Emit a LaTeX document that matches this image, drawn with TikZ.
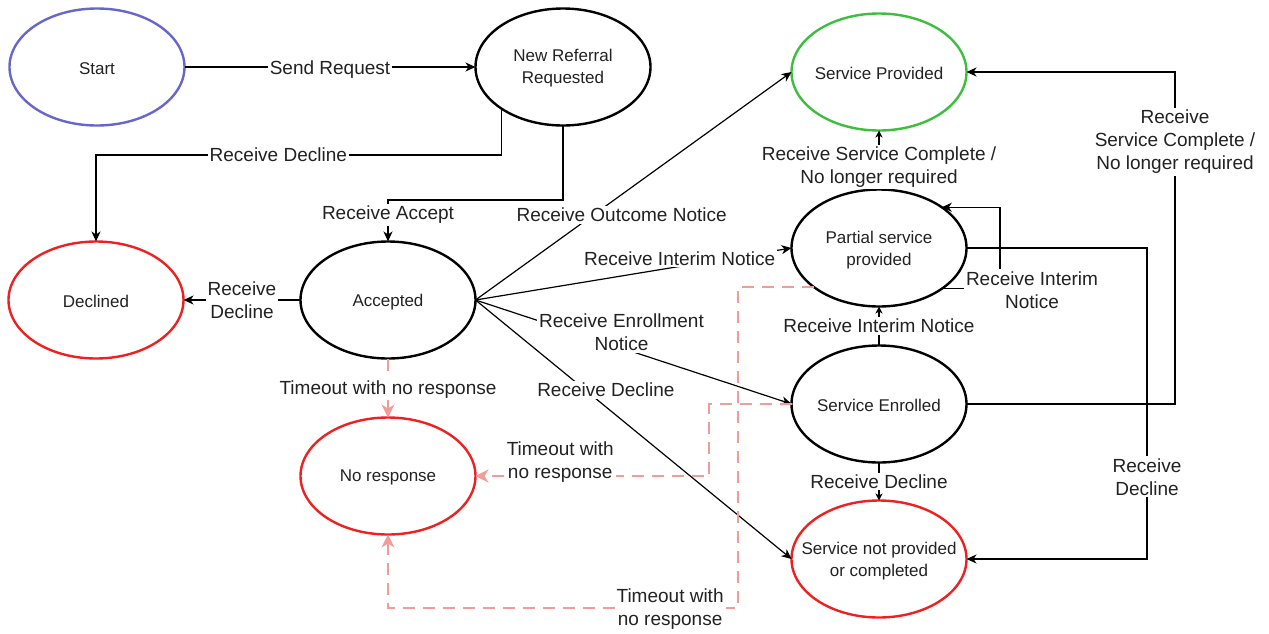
\documentclass[tikz,border=0pt]{standalone}
\usepackage{fontspec}
\setmainfont{Liberation Sans}
\usetikzlibrary{arrows.meta,shapes.geometric}
\definecolor{startblue}{HTML}{6666CC}
\definecolor{okgreen}{HTML}{3CBF3C}
\definecolor{failred}{HTML}{EE2020}
\definecolor{timeoutpink}{HTML}{F19C99}
\definecolor{ink}{HTML}{222222}
\begin{document}
\begin{tikzpicture}[x=0.5pt,y=-0.5pt,
  state/.style={ellipse, draw=black, line width=1.2pt, minimum width=87.5pt,
    minimum height=58.5pt, inner sep=0pt, outer sep=0pt},
  statelbl/.style={font=\fontsize{8.5}{11}\selectfont, align=center, text=ink,
    inner sep=0pt, yshift=-0.8pt},
  edge/.style={draw=black, line width=0.6pt, -{Stealth[length=5pt,width=4.5pt,inset=1.5pt]}},
  shortedge/.style={draw=black, line width=0.6pt, -{Stealth[length=3.5pt,width=3.5pt,inset=1pt]}},
  timeout/.style={draw=timeoutpink, line width=1.2pt, dash pattern=on 6pt off 4pt,
    -{Stealth[length=6.5pt,width=6.5pt,inset=2pt]}},
  lbl/.style={fill=white, inner sep=1pt, font=\fontsize{9.5}{11.5}\selectfont,
    align=center, text=ink}]

\useasboundingbox (0,0) rectangle (1269,633);

% states
\node[state, draw=startblue] (start) at (97,67) {};
\node[statelbl] at (start) {Start};
\node[state] (nr) at (563,67) {};
\node[statelbl] at (nr) {New Referral\\Requested};
\node[state, draw=okgreen] (sp) at (879,72) {};
\node[statelbl] at (sp) {Service Provided};
\node[state, draw=failred] (dec) at (96,300) {};
\node[statelbl] at (dec) {Declined};
\node[state] (acc) at (388,300) {};
\node[statelbl] at (acc) {Accepted};
\node[state] (ps) at (879,248) {};
\node[statelbl] at (ps) {Partial service\\provided};
\node[state] (se) at (879,404) {};
\node[statelbl] at (se) {Service Enrolled};
\node[state, draw=failred] (nores) at (388,476) {};
\node[statelbl] at (nores) {No response};
\node[state, draw=failred] (snp) at (879,559) {};
\node[statelbl] at (snp) {Service not provided\\or completed};

% transitions out of the request
\draw[edge] (start) -- node[lbl,yshift=-1.5pt]{Send Request} (nr);
\draw[edge] (nr.south west) -- (nr.south west |- 0,155)
  -- node[lbl,pos=0.55]{Receive Decline} (dec.north |- 0,155) -- (dec.north);
\draw[edge] (nr.south) -- (nr.south |- 0,200) -- (acc.north |- 0,200)
  -- node[lbl,pos=0.36]{Receive Accept} (acc.north);

% transitions out of Accepted
\draw[edge] (acc) -- node[lbl]{Receive\\Decline} (dec);
\draw[edge] (acc.east) -- node[lbl,pos=0.377,xshift=13.5pt,yshift=-0.5pt]{Receive Outcome Notice} (sp.west);
\draw[edge] (acc.east) -- node[lbl,pos=0.646,yshift=4pt]{Receive Interim Notice} (ps.west);
\draw[edge] (acc.east) -- node[lbl,pos=0.462,yshift=8pt]{Receive Enrollment\\Notice} (se.west);
\draw[edge] (acc.east) -- node[lbl,pos=0.343,xshift=11pt,yshift=-0.5pt]{Receive Decline} (snp.west);

% service progress
\draw[shortedge] (se) -- node[lbl]{Receive Interim Notice} (ps);
\draw[shortedge] (se) -- node[lbl]{Receive Decline} (snp);
\draw[shortedge] (ps.north) -- node[lbl,pos=0.38]{Receive Service Complete /\\No longer required} (sp.south);
\draw[edge] (ps.327) -- (ps.327 -| 1000,0) node[lbl,xshift=16pt,yshift=-0.5pt]{Receive Interim\\Notice}
  -- (1000,0 |- ps.33) -- (ps.33);
\draw[edge] (ps.east) -- (ps.east -| 1147,0)
  -- node[lbl,pos=0.736]{Receive\\Decline} (1147,0 |- snp.east) -- (snp.east);
\draw[edge] (se.east) -- (se.east -| 1175,0)
  -- node[lbl,pos=0.79]{Receive\\Service Complete /\\No longer required} (1175,0 |- sp.east) -- (sp.east);

% timeouts
\draw[timeout] (acc) -- node[lbl,yshift=-0.8pt]{Timeout with no response} (nores);
\draw[timeout] (se.west) -- (se.west -| 709,0) -- (709,0 |- nores.east)
  -- node[lbl,pos=0.637,yshift=7pt]{Timeout with\\no response} (nores.east);
\draw[timeout] (ps.211) -- (ps.211 -| 738,0) -- (738,608)
  -- node[lbl,pos=0.194,yshift=-0.5pt]{Timeout with\\no response} (nores.south |- 0,608) -- (nores.south);
\end{tikzpicture}
\end{document}
